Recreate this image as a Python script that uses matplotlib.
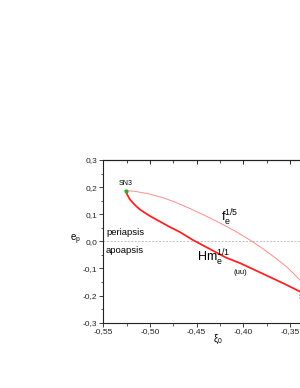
import matplotlib
matplotlib.use("Agg")
import matplotlib.pyplot as plt
from matplotlib.ticker import FuncFormatter, MultipleLocator

plt.rcParams["font.family"] = ["Liberation Sans", "DejaVu Sans"]
plt.rcParams["mathtext.fontset"] = "custom"
plt.rcParams["mathtext.rm"] = "Liberation Sans"
plt.rcParams["mathtext.it"] = "Liberation Sans:italic"

# data
hm_xi = [-0.5260, -0.5241, -0.5214, -0.5160, -0.5107, -0.5000, -0.4893, -0.4786,
         -0.4679, -0.4539, -0.4357, -0.4186, -0.4036, -0.3875, -0.3714, -0.3554,
         -0.3393, -0.3240]
hm_e = [0.1867, 0.1708, 0.1542, 0.1339, 0.1173, 0.0934, 0.0731, 0.0528,
        0.0343, 0.0048, -0.0284, -0.0598, -0.0801, -0.1059, -0.1317, -0.1576,
        -0.1852, -0.2120]
f_xi = [-0.5260, -0.5160, -0.5021, -0.4871, -0.4732, -0.4571, -0.4411, -0.4249,
        -0.4089, -0.3928, -0.3800, -0.3661, -0.3532, -0.3393, -0.3240]
f_e = [0.1867, 0.1845, 0.1756, 0.1624, 0.1450, 0.1210, 0.0952, 0.0675,
       0.0380, 0.0048, -0.0247, -0.0598, -0.0948, -0.1428, -0.2120]
sn3 = (-0.526, 0.1867)
xticks = [-0.55, -0.50, -0.45, -0.40, -0.35, -0.30]
yticks = [-0.3, -0.2, -0.1, 0.0, 0.1, 0.2, 0.3]

fig = plt.figure(figsize=(3.0, 3.88), dpi=100)
ax = fig.add_axes([0.3443, 0.1683, 0.778, 0.4193])
ax.set_xlim(-0.55, -0.30)
ax.set_ylim(-0.3, 0.3)

ax.axhline(0.0, color="#aaaaaa", lw=0.5, ls=(0, (3, 2)), zorder=1)
ax.plot(f_xi, f_e, color="#ff8c8c", lw=0.7, zorder=2)
ax.plot(hm_xi, hm_e, color="#ff2222", lw=1.3, zorder=3)
ax.plot([sn3[0]], [sn3[1]], "o", color="#33aa33", ms=2, zorder=4)

ax.set_xticks(xticks)
ax.set_yticks(yticks)
ax.xaxis.set_minor_locator(MultipleLocator(0.025))
ax.yaxis.set_minor_locator(MultipleLocator(0.05))
fx = FuncFormatter(lambda v, p: ("%.2f" % v).replace(".", ","))
fy = FuncFormatter(lambda v, p: ("%.1f" % v).replace(".", ","))
ax.xaxis.set_major_formatter(fx)
ax.yaxis.set_major_formatter(fy)
ax.tick_params(which="major", direction="out", length=3, width=0.6, labelsize=6,
               pad=1.2, colors="#222222")
ax.tick_params(which="minor", direction="out", length=1.8, width=0.5, colors="#222222")

top = ax.secondary_xaxis("top")
top.set_xticks(xticks)
top.xaxis.set_minor_locator(MultipleLocator(0.025))
top.tick_params(which="major", direction="in", length=3, width=0.6, labeltop=False)
top.tick_params(which="minor", direction="in", length=1.8, width=0.5)
top.spines["top"].set_linewidth(0.8)
for s in ax.spines.values():
    s.set_linewidth(0.8)
    s.set_color("#222222")

ax.text(sn3[0], 0.215, "SN3", fontsize=5, ha="center", va="center")
ax.text(-0.4237, 0.086, r"$\mathregular{f_e^{1/5}}$", fontsize=9, ha="left", va="center")
ax.text(-0.4494, -0.0616, r"$\mathregular{Hm_e^{1/1}}$", fontsize=9, ha="left", va="center")
ax.text(-0.4033, -0.114, "(uu)", fontsize=5.5, ha="center", va="center")
ax.text(-0.547, 0.034, "periapsis", fontsize=6.8, ha="left", va="center")
ax.text(-0.547, -0.032, "apoapsis", fontsize=6.8, ha="left", va="center")
ax.text(-0.3405, -0.2055, "SN4", fontsize=5, ha="left", va="center")

fig.text(76 / 300, 1 - 240 / 388, r"$\mathregular{e_p}$", fontsize=7, ha="center", va="center")
fig.text(218 / 300, 1 - 339 / 388, r"$\mathregular{\xi_0}$", fontsize=7, ha="center", va="center")

fig.savefig("out.png", dpi=100)
